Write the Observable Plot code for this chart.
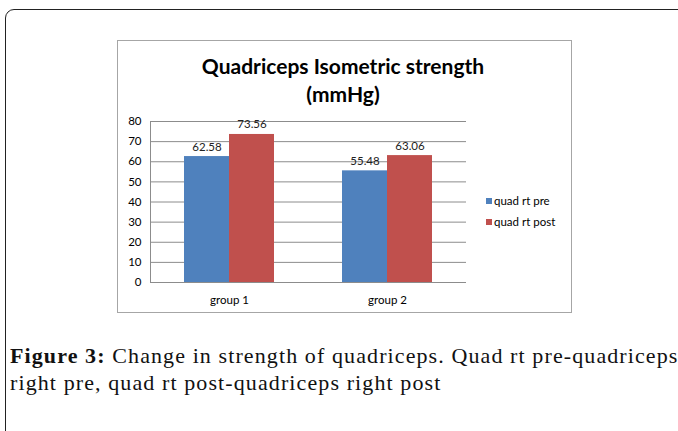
<!DOCTYPE html>
<html>
<head>
<meta charset="utf-8">
<script src="https://cdn.jsdelivr.net/npm/d3@7"></script>
<script src="https://cdn.jsdelivr.net/npm/@observablehq/plot@0.6"></script>
<style>
  html, body { margin: 0; padding: 0; background: #fff; }
  #page { position: relative; width: 678px; height: 431px; overflow: hidden; background: #fff; }
  #outer { position: absolute; left: 5px; top: 9px; width: 700px; height: 460px; border: 1.5px solid #222; border-radius: 9px; box-sizing: border-box; }
  #chartbox { position: absolute; left: 117px; top: 40px; width: 455px; height: 273px; border: 1px solid #a6a6a6; box-sizing: border-box; }
  #plot { position: absolute; left: 117px; top: 40px; }
  #title { position: absolute; left: 117px; top: 52px; width: 452px; text-align: center; font-family: Lato, "Open Sans", sans-serif; font-weight: bold; font-size: 21px; line-height: 28px; color: #000; }
  #legend { position: absolute; left: 486px; top: 190px; font-family: Lato, "Open Sans", sans-serif; font-size: 11.5px; color: #000; }
  #legend .item { display: flex; align-items: center; height: 21px; }
  #legend .sw { width: 6px; height: 6px; margin-right: 2px; }
  #caption { position: absolute; left: 10px; top: 342px; width: 680px; white-space: nowrap; font-family: "Liberation Serif", serif; font-size: 22px; line-height: 27px; letter-spacing: 1.1px; color: #111; }
  #caption b { font-weight: bold; }
</style>
</head>
<body>
<div id="page">
  <div id="outer"></div>
  <div id="chartbox"></div>
  <div id="title">Quadriceps Isometric strength<br>(mmHg)</div>
  <div id="plot"></div>
  <div id="legend"></div>
  <div id="caption"><b>Figure 3:</b> Change in strength of quadriceps. Quad rt pre-quadriceps<br>right pre, quad rt post-quadriceps right post</div>
</div>
<script>
const groups = ["group 1", "group 2"];
const seriesNames = ["quad rt pre", "quad rt post"];
const preValues = [62.58, 55.48];
const postValues = [73.56, 63.06];
const yTicks = [0, 10, 20, 30, 40, 50, 60, 70, 80];
const colors = ["#4f81bd", "#c0504d"];

const pre = groups.map((g, i) => ({group: g, series: seriesNames[0], value: preValues[i]}));
const post = groups.map((g, i) => ({group: g, series: seriesNames[1], value: postValues[i]}));

const font = "Lato, 'Open Sans', sans-serif";
const half = 22.5;

const chart = Plot.plot({
  width: 455,
  height: 273,
  marginLeft: 33,
  marginRight: 106,
  marginTop: 81,
  marginBottom: 31,
  style: {fontFamily: font, fontSize: "11px", color: "#000", background: "transparent", overflow: "visible"},
  x: {domain: groups, paddingInner: 0.43, paddingOuter: 0.215, label: null},
  y: {domain: [0, 80], label: null},
  color: {domain: seriesNames, range: colors},
  marks: [
    Plot.ruleY(yTicks, {stroke: "#8c8c8c", strokeWidth: 1}),
    Plot.barY(pre, {x: "group", y: "value", fill: "series", insetRight: 45}),
    Plot.barY(post, {x: "group", y: "value", fill: "series", insetLeft: 45}),
    Plot.text(pre, {x: "group", y: "value", text: d => d.value.toFixed(2), dx: -half, dy: -6, lineAnchor: "bottom", fill: "#222", fontSize: 11.5}),
    Plot.text(post, {x: "group", y: "value", text: d => d.value.toFixed(2), dx: half, dy: -6, lineAnchor: "bottom", fill: "#222", fontSize: 11.5}),
    Plot.axisY({ticks: yTicks, tickSize: 0, tickPadding: 9, label: null, fontSize: 11.5}),
    Plot.axisX({tickSize: 0, tickPadding: 13, label: null, fontSize: 11.5}),
    Plot.frame({anchor: "left", stroke: "#8c8c8c"})
  ]
});
document.getElementById("plot").appendChild(chart);

const legend = document.getElementById("legend");
seriesNames.forEach((s, i) => {
  const item = document.createElement("div");
  item.className = "item";
  const sw = document.createElement("div");
  sw.className = "sw";
  sw.style.background = colors[i];
  const label = document.createElement("span");
  label.textContent = s;
  item.appendChild(sw);
  item.appendChild(label);
  legend.appendChild(item);
});
</script>
</body>
</html>
